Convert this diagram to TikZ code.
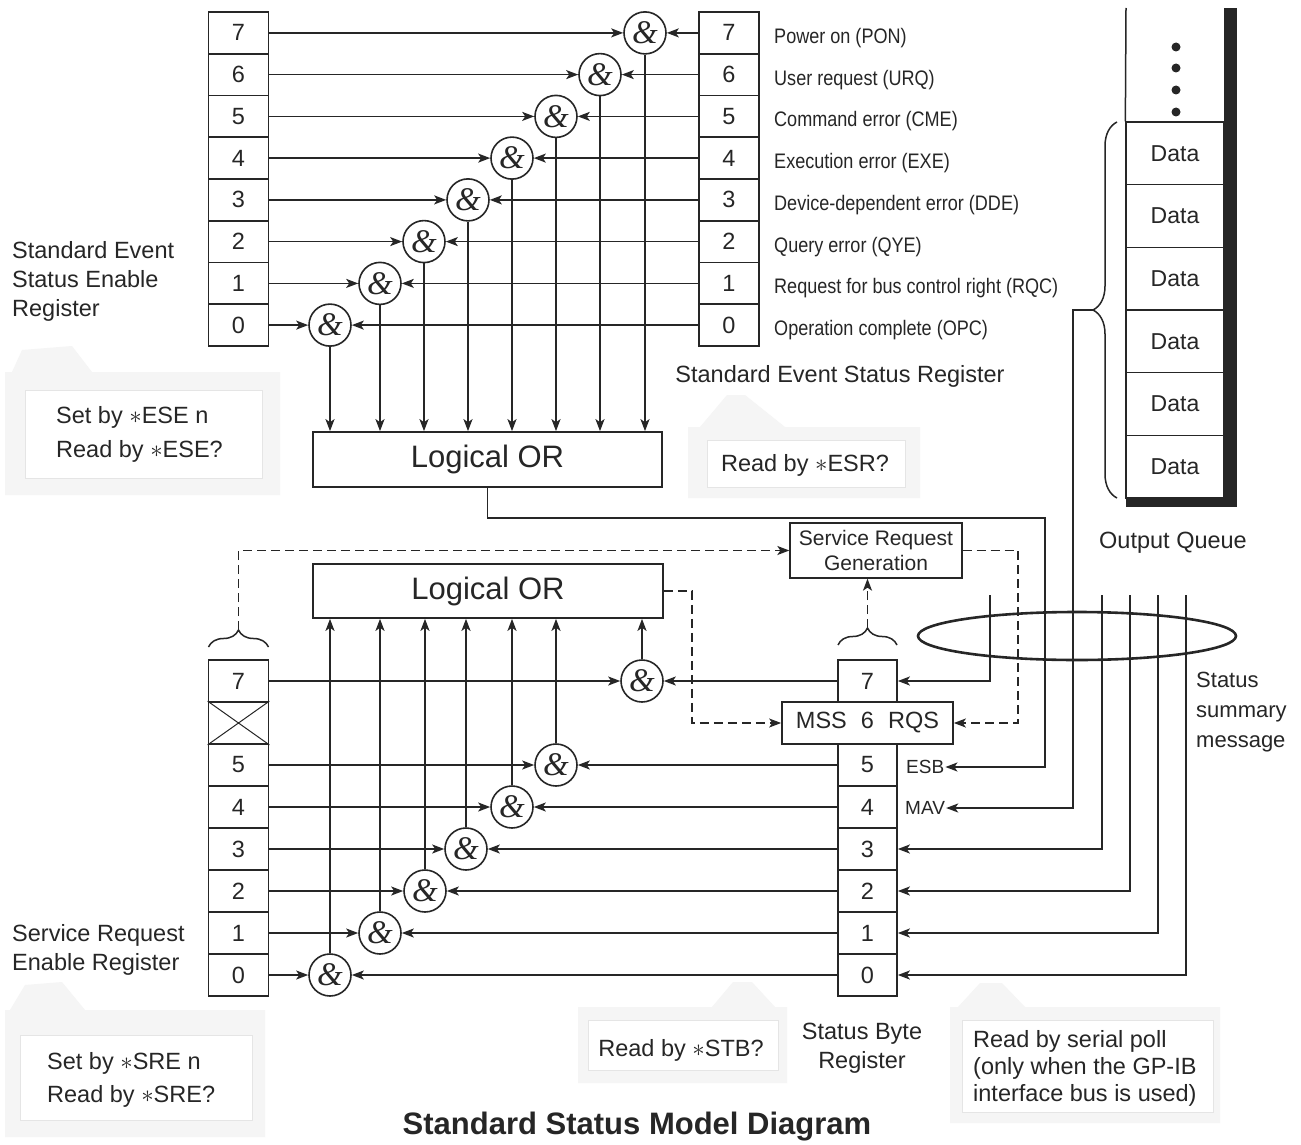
\documentclass[tikz,border=0pt]{standalone}
\usepackage{fontspec}
\setmainfont{Liberation Sans}
\newfontfamily\narrowfont[FakeStretch=0.86]{Liberation Sans}
\newfontfamily\ampfont{Liberation Serif}
\usetikzlibrary{arrows.meta,decorations.pathreplacing,calc}
\tikzset{
  ln/.style={line width=1.7pt, draw=black!85},
  arr/.style={ln, -{Stealth[length=12pt,width=9pt,inset=3pt]}},
  dsh/.style={line width=1.5pt, draw=black!85, dash pattern=on 9pt off 5pt, -{Stealth[length=12pt,width=9pt,inset=3pt]}},
  cell/.style={draw=black!85, line width=1.7pt, minimum width=60pt, minimum height=41.75pt, inner sep=0pt, text=black!85, font=\fontsize{23.5}{28}\selectfont},
  qcell/.style={draw=black!85, line width=1.3pt, minimum width=98pt, minimum height=62.67pt, inner sep=0pt, text=black!85, font=\fontsize{23}{28}\selectfont},
  gate/.style={circle, draw=black!85, line width=1.6pt, fill=white, minimum size=42pt, inner sep=0pt, text=black!85, font=\ampfont\itshape\fontsize{33}{33}\selectfont},
  orbox/.style={draw=black!85, line width=1.7pt, minimum width=349pt, minimum height=55pt, inner sep=0pt, text=black!85, font=\fontsize{31}{36}\selectfont},
  lbl/.style={inner sep=0pt, text=black!85, font=\fontsize{23.5}{29}\selectfont},
  bitlbl/.style={inner sep=0pt, anchor=west, text=black!85, font=\narrowfont\fontsize{21}{25}\selectfont},
  small/.style={inner sep=1pt, text=black!85, font=\fontsize{19}{22}\selectfont},
  tabbg/.style={fill=black!4},
  tabin/.style={fill=white, draw=black!10, line width=1pt},
  brc/.style={line width=1.5pt, draw=black!85, decorate},
}
\begin{document}
\begin{tikzpicture}[x=1pt,y=-1pt]
\useasboundingbox (0,0) rectangle (1301,1145);
\fill[white] (0,0) rectangle (1301,1145);

% ---------- gray callouts ----------
\fill[tabbg] (5,372) -- (12,372) -- (22,350) -- (72,346) -- (92,372) -- (280,372) -- (280,495) -- (5,495) -- cycle;
\draw[tabin] (25,390) rectangle (262,478);
\fill[tabbg] (688,427) -- (700,427) -- (727,395) -- (745,395) -- (785,427) -- (920,427) -- (920,498) -- (688,498) -- cycle;
\draw[tabin] (707,440) rectangle (905,487);
\fill[tabbg] (5,1010) -- (10,1010) -- (25,985) -- (62,982) -- (85,1010) -- (265,1010) -- (265,1137) -- (5,1137) -- cycle;
\draw[tabin] (20,1035) rectangle (252,1120);
\fill[tabbg] (578,1007) -- (712,1007) -- (733,982) -- (752,982) -- (775,1007) -- (787,1007) -- (787,1083) -- (578,1083) -- cycle;
\draw[tabin] (588,1020) rectangle (778,1070);
\fill[tabbg] (950,1007) -- (958,1007) -- (980,983) -- (1002,983) -- (1025,1007) -- (1220,1007) -- (1220,1123) -- (950,1123) -- cycle;
\draw[tabin] (962,1020) rectangle (1213,1112);

\node[lbl, anchor=west, align=left, font=\fontsize{23.5}{34}\selectfont] (ctese) at (56,434) {Set by $\ast$ESE n\\Read by $\ast$ESE?};
\node[lbl] (ctesr) at (805,465) {Read by $\ast$ESR?};
\node[lbl, anchor=west, align=left, font=\fontsize{23.5}{33}\selectfont] (ctsre) at (47,1080) {Set by $\ast$SRE n\\Read by $\ast$SRE?};
\node[lbl] (ctstb) at (681,1050) {Read by $\ast$STB?};
\node[lbl, anchor=west, align=left, font=\fontsize{23.5}{27}\selectfont] (ctpoll) at (973,1068) {Read by serial poll\\(only when the GP-IB\\interface bus is used)};

% ---------- top registers ----------
\foreach \b/\y in {7/32.9,6/74.6,5/116.4,4/158.1,3/199.9,2/241.6,1/283.4,0/325.1}{
  \node[cell] (ese\b) at (238.5,\y) {\b};
  \node[cell] (esr\b) at (729,\y) {\b};
}
\foreach \b/\x/\y in {7/645/32.9,6/600/74.6,5/556/116.4,4/512/158.1,3/468/199.9,2/424/241.6,1/380/283.4,0/330/325.1}{
  \node[gate] (ga\b) at (\x,\y) {\&};
}
\node[orbox] (orA) at (487.5,459.5) {Logical OR};
\foreach \b in {7,6,5,4,3,2,1,0}{
  \draw[arr] (ese\b.east) -- (ga\b.west);
  \draw[arr] (esr\b.west) -- (ga\b.east);
  \draw[arr] (ga\b.south) -- (ga\b.south |- orA.north);
}
\foreach \b/\t/\y in {7/Power on (PON)/32.9,6/User request (URQ)/74.6,5/Command error (CME)/116.4,4/Execution error (EXE)/158.1,3/Device-dependent error (DDE)/199.9,2/Query error (QYE)/241.6,1/Request for bus control right (RQC)/283.4,0/Operation complete (OPC)/325.1}{
  \node[bitlbl] (bl\b) at (774,\y+5) {\t};
}
\node[lbl] (esrname) at (840,376) {Standard Event Status Register};
\node[lbl, anchor=west, align=left] (esename) at (12,281) {Standard Event\\Status Enable\\Register};

% ---------- output queue ----------
\foreach \i/\y in {1/153.33,2/216,3/278.67,4/341.33,5/404,6/466.67}{
  \node[qcell] (q\i) at (1175,\y) {Data};
}
\draw[line width=1.5pt, draw=black!85] (1126,8) -- (q1.north west);
\fill[black!85] (1224,8) rectangle (1237,507);
\fill[black!85] (1126,498) rectangle (1237,507);
\foreach \y in {47,68,90,112}{ \fill[black!85] (1176,\y) circle[radius=4.5pt]; }
\node[lbl] (oqname) at (1173,543) {Output Queue};
\draw[brc, decoration={brace, amplitude=24pt}] (1117,498) -- (1117,122);
\coordinate (qtip) at (1093,310);
\coordinate (mavc) at (1073,310);

% ---------- lower section ----------
\node[orbox, minimum height=54pt, minimum width=350pt] (orB) at (488,591) {Logical OR};
\node[draw=black!85, line width=1.3pt, minimum width=172pt, minimum height=55pt, inner sep=0pt, align=center, text=black!85, font=\fontsize{21}{25}\selectfont] (srg) at (876,550.5) {Service Request\\Generation};

\foreach \b/\y in {7/681,5/765,4/807,3/849,2/891,1/933,0/975}{
  \node[cell, minimum height=42pt] (sre\b) at (238.5,\y) {\b};
  \node[cell, minimum height=42pt, minimum width=59pt] (st\b) at (867.5,\y) {\b};
}
\node[cell, minimum height=42pt] (sre6) at (238.5,723) {};
\draw[line width=1pt, draw=black!85] (sre6.north west) -- (sre6.south east) (sre6.south west) -- (sre6.north east);
\node[cell, minimum height=42pt, minimum width=171pt] (mss) at (867.5,723) {MSS\hspace{0.6em}6\hspace{0.6em}RQS};

\foreach \b/\x/\y in {7/642/681,5/556/765,4/512/807,3/466/849,2/425/891,1/380/933,0/330/975}{
  \node[gate] (gb\b) at (\x,\y) {\&};
}
\foreach \b in {7,5,4,3,2,1,0}{
  \draw[arr] (sre\b.east) -- (gb\b.west);
  \draw[arr] (st\b.west) -- (gb\b.east);
  \draw[arr] (gb\b.north) -- (gb\b.north |- orB.south);
}

% braces and dashed service request paths
\draw[brc, decoration={brace, amplitude=17pt}] (208.5,647) -- (268.5,647);
\draw[brc, decoration={brace, amplitude=17pt}] (838,645) -- (897,645);
\coordinate (sretip) at (238.5,630);
\coordinate (sbtip) at (867.5,628);
\coordinate (xd) at (1018,0);
\coordinate (xo) at (692,0);
\draw[dsh] (sretip) |- (srg.west);
\draw[dsh] (srg.east) -| (xd |- mss.east) -- (mss.east);
\draw[dsh] (orB.east) -| (xo |- mss.west) -- (mss.west);
\draw[dsh] (sbtip) -- (sbtip |- srg.south);

% ESB / MAV / summary lines
\node[small, anchor=west] (esb) at (905,767) {ESB};
\node[small, anchor=west] (mav) at (904,808) {MAV};
\coordinate (esbc) at (1045,518);
\draw[arr] (orA.south) |- (esbc) |- (esb.east);
\draw[arr] (qtip) -- (mavc) |- (mav.east);
\coordinate (t7) at (990,595);
\coordinate (t3) at (1102,595);
\coordinate (t2) at (1130,595);
\coordinate (t1) at (1158,595);
\coordinate (t0) at (1186,595);
\foreach \b in {7,3,2,1,0}{ \draw[arr] (t\b) |- (st\b.east); }
\draw[line width=2.6pt, draw=black!85] (1077,636) ellipse [x radius=159pt, y radius=24pt];

\node[lbl, anchor=west, align=left, font=\fontsize{22}{30}\selectfont] (ssm) at (1196,712) {Status\\summary\\message};
\node[lbl, align=center] (sbname) at (862,1048) {Status Byte\\Register};
\node[lbl, anchor=west, align=left] (srename) at (12,950) {Service Request\\Enable Register};
\node[inner sep=0pt, text=black!85, font=\bfseries\fontsize{31}{36}\selectfont] (title) at (637,1127) {Standard Status Model Diagram};
\end{tikzpicture}
\end{document}
